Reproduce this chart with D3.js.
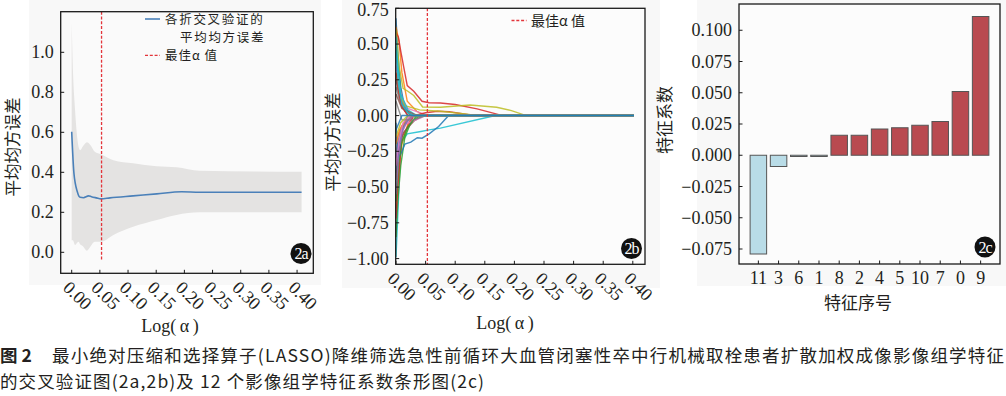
<!DOCTYPE html>
<html>
<head>
<meta charset="utf-8">
<title>LASSO</title>
<script src="https://cdn.jsdelivr.net/npm/d3@7/dist/d3.min.js"></script>
<style>
  body { margin: 0; background: #fff; }
  svg text { fill: #231f20; }
  .num { font-family: "Liberation Serif", "DejaVu Serif", serif; font-size: 18px; }
  .cjk { font-family: "Noto Sans CJK SC", sans-serif; }
</style>
</head>
<body>
<div id="chart"></div>
<script>

// ---- panel 2a : cross validation mean squared error ----
var alphaA = [0, 0.004, 0.010, 0.015, 0.021, 0.030, 0.035, 0.044, 0.052, 0.068, 0.109, 0.151, 0.195, 0.227, 0.408];
var meanA  = [0.603, 0.395, 0.303, 0.275, 0.273, 0.282, 0.278, 0.272, 0.267, 0.272, 0.282, 0.292, 0.303, 0.300, 0.300];
var bandX     = [0, 0.002, 0.006, 0.012, 0.015, 0.020, 0.027, 0.033, 0.041, 0.052, 0.074, 0.109, 0.151, 0.186, 0.227, 0.408];
var bandUpper = [1.15, 0.93, 0.71, 0.53, 0.51, 0.53, 0.55, 0.537, 0.503, 0.49, 0.46, 0.445, 0.43, 0.425, 0.408, 0.403];
var bandLower = [0.06, 0.06, 0.037, 0.053, 0.04, 0.03, 0.008, 0.028, 0.053, 0.053, 0.087, 0.128, 0.162, 0.187, 0.20, 0.20];
var bestAlpha = 0.053;
var ticksA_x = [0, 0.05, 0.10, 0.15, 0.20, 0.25, 0.30, 0.35, 0.40];
var ticksA_y = [0, 0.2, 0.4, 0.6, 0.8, 1.0];

// ---- panel 2b : coefficient paths ----
var coefPaths = [
  [[0,0.68],[0.003,0.45],[0.008,0.2],[0.015,0.05],[0.025,0],[0.402,0]],
  [[0,0.62],[0.005,0.52],[0.01,0.3],[0.019,0.10],[0.035,0.03],[0.05,0],[0.402,0]],
  [[0,0.48],[0.004,0.3],[0.01,0.1],[0.02,0.02],[0.03,0],[0.402,0]],
  [[0,0.58],[0.004,0.55],[0.008,0.45],[0.013,0.34],[0.019,0.21],[0.03,0.17],[0.044,0.10],[0.056,0.09],[0.075,0.088],[0.10,0.077],[0.137,0.047],[0.18,0],[0.402,0]],
  [[0,0.35],[0.005,0.2],[0.012,0.08],[0.025,0],[0.402,0]],
  [[0,0.25],[0.006,0.12],[0.015,0.03],[0.03,0],[0.402,0]],
  [[0,0.42],[0.004,0.25],[0.01,0.12],[0.02,0.05],[0.04,0.02],[0.055,0],[0.402,0]],
  [[0,0.2],[0.008,0.08],[0.02,0],[0.402,0]],
  [[0,0.6],[0.005,0.35],[0.012,0.19],[0.02,0.17],[0.03,0.14],[0.045,0.06],[0.075,0.058],[0.125,0.074],[0.17,0.058],[0.195,0.035],[0.22,0],[0.402,0]],
  [[0,-0.99],[0.004,-0.6],[0.008,-0.2],[0.019,-0.128],[0.042,-0.111],[0.056,-0.10],[0.075,-0.088],[0.168,0],[0.402,0]],
  [[0,-0.4],[0.005,-0.2],[0.012,-0.08],[0.02,0],[0.402,0]],
  [[0,-0.65],[0.004,-0.4],[0.01,-0.2],[0.02,-0.06],[0.03,0],[0.402,0]],
  [[0,-0.85],[0.003,-0.6],[0.008,-0.35],[0.015,-0.15],[0.025,-0.05],[0.04,0],[0.402,0]],
  [[0,-0.72],[0.003,-0.5],[0.01,-0.15],[0.03,0],[0.05,0.02],[0.07,0.03],[0.09,0.027],[0.131,0],[0.402,0]],
  [[0,-0.3],[0.006,-0.15],[0.015,-0.06],[0.03,0],[0.402,0]],
  [[0,-0.45],[0.005,-0.25],[0.012,-0.12],[0.03,-0.04],[0.045,0],[0.402,0]],
  [[0,-0.18],[0.01,-0.07],[0.04,-0.02],[0.05,0],[0.402,0]],
  [[0,-0.25],[0.008,-0.1],[0.025,0],[0.402,0]],
  [[0,0.3],[0.006,0.15],[0.015,0.07],[0.04,0.04],[0.075,0.03],[0.12,0.01],[0.135,0],[0.402,0]],
  [[0,0.55],[0.003,0.35],[0.008,0.15],[0.02,0.04],[0.035,0],[0.402,0]],
  [[0,-0.05],[0.003,-0.29],[0.008,-0.27],[0.015,-0.2],[0.025,-0.186],[0.036,-0.155],[0.044,-0.158],[0.056,-0.128],[0.072,-0.077],[0.089,0],[0.402,0]],
  [[0,-0.2],[0.006,-0.1],[0.015,-0.04],[0.03,0],[0.402,0]],
  [[0,-0.6],[0.004,-0.35],[0.01,-0.18],[0.02,-0.08],[0.035,0],[0.402,0]],
  [[0,0.3],[0.004,0.18],[0.01,0.06],[0.02,0],[0.402,0]],
  [[0,-0.55],[0.004,-0.3],[0.01,-0.12],[0.02,-0.03],[0.03,0],[0.402,0]],
  [[0,0.15],[0.01,0.05],[0.03,0.01],[0.04,0],[0.402,0]],
  [[0,-0.35],[0.005,-0.18],[0.012,-0.05],[0.025,0],[0.402,0]],
  [[0,0.1],[0.01,-0.03],[0.03,-0.03],[0.05,0],[0.402,0]],
  [[0,-0.15],[0.008,-0.05],[0.02,0],[0.402,0]],
  [[0,0.45],[0.004,0.22],[0.01,0.08],[0.02,0.02],[0.03,0],[0.402,0]],
  [[0,-0.1],[0.005,-0.05],[0.01,0],[0.402,0]]
];
var ticksB_y = [0.75, 0.5, 0.25, 0, -0.25, -0.5, -0.75, -1.0];

// ---- panel 2c : feature coefficients ----
var features = ["11", "3", "6", "1", "8", "2", "4", "5", "10", "7", "0", "9"];
var coefs = [-0.079, -0.009, -0.001, -0.001, 0.016, 0.016, 0.021, 0.022, 0.024, 0.027, 0.051, 0.111];
var ticksC_y = [0.100, 0.075, 0.050, 0.025, 0, -0.025, -0.050, -0.075];

var tab10 = ["#1f77b4","#ff7f0e","#2ca02c","#d62728","#9467bd","#8c564b","#e377c2","#7f7f7f","#bcbd22","#17becf"];

var svg = d3.select("#chart").append("svg")
  .attr("width", 1006).attr("height", 396);

// scanned page background behind the panels
svg.append("rect").attr("x", 29).attr("y", 0).attr("width", 292).attr("height", 285).attr("fill", "#f8f8f8");
svg.append("rect").attr("x", 342).attr("y", 0).attr("width", 318).attr("height", 288).attr("fill", "#f8f8f8");
svg.append("rect").attr("x", 697).attr("y", 0).attr("width", 309).attr("height", 286).attr("fill", "#f8f8f8");

function badge(g, x, y, label) {
  g.append("circle").attr("cx", x).attr("cy", y).attr("r", 10.5).attr("fill", "#111");
  g.append("text").attr("class", "num").attr("x", x).attr("y", y + 5.5)
    .attr("text-anchor", "middle").style("font-size", "16px").style("fill", "#fff")
    .style("letter-spacing", "-1px").text(label);
}

function frame(g, w, h) {
  g.append("rect").attr("width", w).attr("height", h)
    .attr("fill", "none").attr("stroke", "#1a1a1a").attr("stroke-width", 1.3);
}

// labels never go above minY (keeps the top label inside the picture)
function yTicks(g, y, ticks, fmt, minY) {
  ticks.forEach(function (t) {
    g.append("line").attr("x1", 0).attr("x2", 3.5).attr("y1", y(t)).attr("y2", y(t))
      .attr("stroke", "#1a1a1a").attr("stroke-width", 1);
    g.append("text").attr("class", "num").attr("x", -7).attr("y", Math.max(y(t), minY || -99))
      .attr("dy", "0.34em").attr("text-anchor", "end").text(fmt(t));
  });
}

function xTicksRot(g, x, h, ticks) {
  ticks.forEach(function (t) {
    g.append("line").attr("x1", x(t)).attr("x2", x(t)).attr("y1", h).attr("y2", h - 3.5)
      .attr("stroke", "#1a1a1a").attr("stroke-width", 1);
    g.append("text").attr("class", "num")
      .attr("transform", "translate(" + (x(t) + 6) + "," + (h + 22) + ") rotate(45)")
      .attr("text-anchor", "middle").attr("dy", "0.35em").text(d3.format(".2f")(t));
  });
}

// ================= 2a =================
var wA = 252.6, hA = 261.6;
var gA = svg.append("g").attr("transform", "translate(60.7,11.7)");
var xA = d3.scaleLinear().domain([-0.0195, 0.4288]).range([0, wA]);
var yA = d3.scaleLinear().domain([-0.105, 1.203]).range([hA, 0]);
gA.append("rect").attr("width", wA).attr("height", hA).attr("fill", "#fafafa");

var band = bandX.map(function (a, i) { return [a, bandLower[i], bandUpper[i]]; });
gA.append("path").datum(band)
  .attr("d", d3.area().x(function (d) { return xA(d[0]); })
    .y0(function (d) { return yA(d[1]); }).y1(function (d) { return yA(d[2]); })
    .curve(d3.curveMonotoneX))
  .attr("fill", "#e4e3e2");

gA.append("path").datum(alphaA.map(function (a, i) { return [a, meanA[i]]; }))
  .attr("d", d3.line().x(function (d) { return xA(d[0]); }).y(function (d) { return yA(d[1]); })
    .curve(d3.curveMonotoneX))
  .attr("fill", "none").attr("stroke", "#4a80b9").attr("stroke-width", 1.6);

gA.append("line").attr("x1", xA(bestAlpha)).attr("x2", xA(bestAlpha))
  .attr("y1", 0).attr("y2", yA(-0.044))
  .attr("stroke", "#e3343a").attr("stroke-width", 1.3).attr("stroke-dasharray", "3,1.8");

frame(gA, wA, hA);
yTicks(gA, yA, ticksA_y, d3.format(".1f"));
xTicksRot(gA, xA, hA, ticksA_x);

// legend
var lgA = svg.append("g");
lgA.append("line").attr("x1", 145).attr("x2", 160).attr("y1", 19).attr("y2", 19)
  .attr("stroke", "#4a80b9").attr("stroke-width", 1.6);
lgA.append("text").attr("class", "cjk").attr("x", 165).attr("y", 23.8)
  .style("font-size", "12.5px").style("letter-spacing", "1.7px").text("各折交叉验证的");
lgA.append("text").attr("class", "cjk").attr("x", 180).attr("y", 42)
  .style("font-size", "12.5px").style("letter-spacing", "1.7px").text("平均均方误差");
lgA.append("line").attr("x1", 145).attr("x2", 160).attr("y1", 55.3).attr("y2", 55.3)
  .attr("stroke", "#e3343a").attr("stroke-width", 1.3).attr("stroke-dasharray", "3,1.8");
lgA.append("text").attr("class", "cjk").attr("x", 165).attr("y", 60.2)
  .style("font-size", "12.5px").style("letter-spacing", "1px").text("最佳α 值");

badge(svg, 301, 253.5, "2a");

svg.append("text").attr("class", "cjk").attr("transform", "translate(19,147) rotate(-90)")
  .attr("text-anchor", "middle").style("font-size", "16.5px").text("平均均方误差");
svg.append("text").attr("class", "num").attr("x", 170).attr("y", 332)
  .attr("text-anchor", "middle").text("Log(\u2009α\u2009)");

// ================= 2b =================
var wB = 249.3, hB = 256;
var gB = svg.append("g").attr("transform", "translate(395.7,8.3)");
var xB = d3.scaleLinear().domain([-0.0005, 0.4206]).range([0, wB]);
var yB = d3.scaleLinear().domain([-1.04, 0.75]).range([hB, 0]);
gB.append("rect").attr("width", wB).attr("height", hB).attr("fill", "#fcfcfc");

var lineB = d3.line().x(function (d) { return xB(d[0]); }).y(function (d) { return yB(d[1]); });
gB.append("g").selectAll("path").data(coefPaths).enter().append("path")
  .attr("d", lineB)
  .attr("fill", "none")
  .attr("stroke", function (d, i) { return tab10[i % 10]; })
  .attr("stroke-width", 1.4).attr("stroke-opacity", 0.85);

gB.append("line").attr("x1", xB(bestAlpha)).attr("x2", xB(bestAlpha))
  .attr("y1", 0).attr("y2", hB)
  .attr("stroke", "#e3343a").attr("stroke-width", 1.3).attr("stroke-dasharray", "3,1.8");

frame(gB, wB, hB);
yTicks(gB, yB, ticksB_y, d3.format(".2f"), 2);
xTicksRot(gB, xB, hB, ticksA_x);

svg.append("line").attr("x1", 511.5).attr("x2", 526.5).attr("y1", 20.5).attr("y2", 20.5)
  .attr("stroke", "#e3343a").attr("stroke-width", 1.3).attr("stroke-dasharray", "3,1.8");
svg.append("text").attr("class", "cjk").attr("x", 531).attr("y", 25.5).style("font-size", "14px")
  .text("最佳α 值");

badge(svg, 631.5, 248.5, "2b");

svg.append("text").attr("class", "cjk").attr("transform", "translate(339,142) rotate(-90)")
  .attr("text-anchor", "middle").style("font-size", "16.5px").text("平均均方误差");
svg.append("text").attr("class", "num").attr("x", 505).attr("y", 329)
  .attr("text-anchor", "middle").text("Log(\u2009α\u2009)");

// ================= 2c =================
var wC = 261, hC = 260;
var gC = svg.append("g").attr("transform", "translate(739,4)");
var xC = d3.scaleBand().domain(features).range([0, wC]).paddingInner(0.183).paddingOuter(0.55);
var yC = d3.scaleLinear().domain([-0.087, 0.121]).range([hC, 0]);
gC.append("rect").attr("width", wC).attr("height", hC).attr("fill", "#fcfcfc");

gC.append("g").selectAll("rect").data(coefs).enter().append("rect")
  .attr("x", function (d, i) { return xC(features[i]); })
  .attr("width", xC.bandwidth())
  .attr("y", function (d) { return yC(Math.max(0, d)); })
  .attr("height", function (d) { return Math.abs(yC(d) - yC(0)); })
  .attr("fill", function (d) { return d < 0 ? "#b9dce7" : "#b94a50"; })
  .attr("stroke", "#555").attr("stroke-width", 1);

frame(gC, wC, hC);
yTicks(gC, yC, ticksC_y, d3.format(".3f"));
features.forEach(function (f) {
  var cx = xC(f) + xC.bandwidth() / 2;
  gC.append("line").attr("x1", cx).attr("x2", cx).attr("y1", hC).attr("y2", hC - 3.5)
    .attr("stroke", "#1a1a1a").attr("stroke-width", 1);
  gC.append("text").attr("class", "num").attr("x", cx).attr("y", hC + 20)
    .attr("text-anchor", "middle").text(f);
});

badge(svg, 985, 247, "2c");

svg.append("text").attr("class", "cjk").attr("transform", "translate(671,120) rotate(-90)")
  .attr("text-anchor", "middle").style("font-size", "17px").text("特征系数");
svg.append("text").attr("class", "cjk").attr("x", 858).attr("y", 309)
  .attr("text-anchor", "middle").style("font-size", "17px").text("特征序号");

// ================= caption =================
var caption1 = "最小绝对压缩和选择算子(LASSO)降维筛选急性前循环大血管闭塞性卒中行机械取栓患者扩散加权成像影像组学特征";
var caption2 = "的交叉验证图(2a,2b)及 12 个影像组学特征系数条形图(2c)";
svg.append("text").attr("class", "cjk").attr("x", 0).attr("y", 362)
  .style("font-size", "17.5px").style("font-weight", "bold").text("图 2");
svg.append("text").attr("class", "cjk").attr("x", 52).attr("y", 362)
  .style("font-size", "17.5px").attr("textLength", 952).attr("lengthAdjust", "spacing")
  .text(caption1);
svg.append("text").attr("class", "cjk").attr("x", 0).attr("y", 388)
  .style("font-size", "17.5px").attr("textLength", 484).attr("lengthAdjust", "spacing")
  .text(caption2);

</script>
</body>
</html>
